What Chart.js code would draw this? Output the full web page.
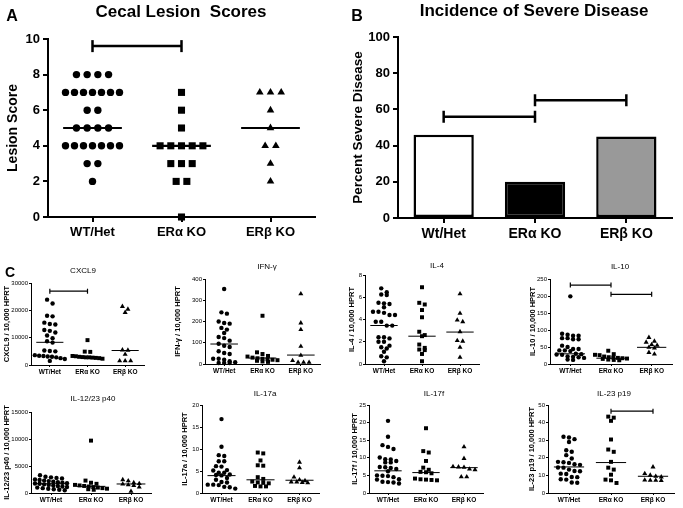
<!DOCTYPE html>
<html>
<head>
<meta charset="utf-8">
<script src="https://cdn.jsdelivr.net/npm/chart.js@4.4.1/dist/chart.umd.min.js"></script>
<style>
body{margin:0;width:683px;height:508px;background:#fff;position:relative;overflow:hidden;font-family:"Liberation Sans",Arial,sans-serif;}
canvas{position:absolute;}
.t{position:absolute;transform:translate(-50%,-50%);white-space:pre;color:#000;will-change:transform;filter:grayscale(100%);}
</style>
</head>
<body>
<div class="t" style="left:12px;top:16px;font:bold 16px 'Liberation Sans'">A</div>
<div class="t" style="left:357px;top:16px;font:bold 16px 'Liberation Sans'">B</div>
<div class="t" style="left:10px;top:272px;font:bold 14px 'Liberation Sans'">C</div>
<div class="t" style="left:181px;top:12px;font:bold 17px 'Liberation Sans'">Cecal Lesion  Scores</div>
<div class="t" style="left:534px;top:11px;font:bold 17px 'Liberation Sans'">Incidence of Severe Disease</div>
<div class="t" style="left:83px;top:270px;font:8px 'Liberation Sans'">CXCL9</div>
<div class="t" style="left:267px;top:266px;font:8px 'Liberation Sans'">IFN-γ</div>
<div class="t" style="left:437px;top:265px;font:8px 'Liberation Sans'">IL-4</div>
<div class="t" style="left:620px;top:266px;font:8px 'Liberation Sans'">IL-10</div>
<div class="t" style="left:93px;top:398px;font:8px 'Liberation Sans'">IL-12/23 p40</div>
<div class="t" style="left:265px;top:393px;font:8px 'Liberation Sans'">IL-17a</div>
<div class="t" style="left:434px;top:393px;font:8px 'Liberation Sans'">IL-17f</div>
<div class="t" style="left:614px;top:393px;font:8px 'Liberation Sans'">IL-23 p19</div>

<canvas id="cA"></canvas>
<canvas id="cB"></canvas>
<canvas id="c1"></canvas>
<canvas id="c2"></canvas>
<canvas id="c3"></canvas>
<canvas id="c4"></canvas>
<canvas id="c5"></canvas>
<canvas id="c6"></canvas>
<canvas id="c7"></canvas>
<canvas id="c8"></canvas>

<script>
// data
const groups = ['WT/Het', 'ERα KO', 'ERβ KO'];
const groupsB = ['Wt/Het', 'ERα KO', 'ERβ KO'];

// A - cecal lesion scores
const lesionWT = [8,8,8,8,7,7,7,7,7,7,7,6,6,5,5,5,5,4,4,4,4,4,4,4,3,3,2];
const lesionERa = [7,6,5,4,4,4,4,4,3,3,3,2,2,0];
const lesionERb = [7,7,7,6,5,4,4,3,2];
const lesionMid = [5,4,5];
const lesionSig = [[0,1,9.6]];

// B - percent severe disease
const severePct = [46,20,45];
const severeSig = [[0,1,56],[1,2,65]];

// C - cytokines / 10,000 HPRT
const cxcl9WT = [23900,22500,18000,17800,15500,15000,14800,12800,12500,11900,10800,9800,8700,8200,5300,5100,5000,3600,3400,3300,3100,3000,2800,2500,2200,1500];
const cxcl9ERa = [9100,4900,4800,3300,3200,3000,2900,2800,2800,2700,2600,2500,2300];
const cxcl9ERb = [21400,20400,19200,5500,5400,3900,1500,1500,1500];
const cxcl9Mid = [8300,2800,5300];
const cxcl9Sig = [[0,1,27000]];

const ifngWT = [353,243,237,200,193,190,170,162,146,127,122,110,95,86,80,60,52,47,25,25,20,13,8,5,5,5];
const ifngERa = [227,55,47,38,35,30,27,25,22,20,18,15,12,10];
const ifngERb = [330,193,162,83,41,16,8,8,8];
const ifngMid = [94,28,42];

const il4WT = [6.8,6.45,6.25,6.2,5.5,5.45,5.4,5.1,4.7,4.7,4.6,4.4,4.4,3.8,3.8,3.45,3.45,2.4,2.4,2.3,2.0,2.0,1.65,1.5,1.4,1.1,0.7,0.6,0.25];
const il4ERa = [6.9,5.5,5.35,4.85,4.2,2.9,2.6,2.5,1.75,1.45,1.3,1.25,0.9,0.25];
const il4ERb = [6.3,4.55,3.95,3.8,2.9,2.1,2.05,1.5,0.6];
const il4Mid = [3.46,2.5,2.87];

const il10WT = [199,89,86,83,83,76,76,73,73,54,50,44,44,40,40,38,30,29,28,27,22,21,20,18,13,12];
const il10ERa = [39,29,27,26,22,20,19,18,17,16,15,13,12,11];
const il10ERb = [78,67,64,57,55,49,47,34,29];
const il10Mid = [30,17,49];
const il10Sig = [[0,1,232],[1,2,205]];

const p40WT = [3300,3000,2900,2800,2700,2500,2400,2300,2200,2100,2000,1900,1800,1750,1700,1600,1500,1400,1300,1200,1100,1000,900,800,700,600,500];
const p40ERa = [9700,2300,1900,1700,1500,1400,1300,1200,1100,1000,900,800,700,600];
const p40ERb = [2450,2250,1900,1750,1650,1500,1400,1100,300];
const p40Mid = [1730,1230,1670];

const il17aWT = [16.8,10.5,8.6,8.4,7.2,7.2,6.1,6.0,5.2,5.1,4.6,4.6,4.2,4.1,4.0,3.4,3.0,2.5,2.4,1.9,1.9,1.8,1.4,1.3,1.0];
const il17aERa = [9.2,9.0,7.4,6.3,6.2,3.6,3.2,2.6,2.4,2.3,2.2,1.6,1.5,1.5];
const il17aERb = [7.0,5.7,3.6,3.0,2.8,2.5,2.5,2.4,2.3];
const il17aMid = [3.95,3.0,2.9];

const il17fWT = [20.5,16.0,13.6,13.1,12.5,10.1,9.6,9.5,9.1,8.7,8.7,7.4,7.3,7.1,6.8,6.2,5.0,4.9,4.8,4.5,3.9,3.8,3.2,3.1,3.0,2.7];
const il17fERa = [18.4,11.9,11.5,9.1,7.2,6.6,6.0,5.9,5.6,4.1,3.9,3.8,3.7,3.6];
const il17fERb = [13.1,9.8,7.5,7.4,7.3,6.8,6.6,4.6,4.6];
const il17fMid = [6.3,5.8,7.2];

const p19WT = [32,31.5,30.6,29,24.3,23.4,21.5,19.6,17.7,17.5,17.1,16.3,16.0,14.5,14.4,13.3,12.5,12.4,11.0,10.8,9.1,9.0,7.8,7.6,6.0,5.8];
const p19ERa = [43.4,42.8,41.0,30.4,24.7,23.4,17.7,14.4,13.3,10.4,7.6,7.2,5.7];
const p19ERb = [14.8,11.0,10.1,9.5,9.1,7.3,7.2,7.2,7.1];
const p19Mid = [14.8,17.3,9.5];
const p19Sig = [[1,2,46.5]];

Chart.defaults.font.family = "'Liberation Sans', Arial, sans-serif";
Chart.defaults.color = '#000';

// lay points of one column out in rows, like a column scatter
function spread(values, col, pxX, pxY, gap, maxHalf, tol){
  let sorted = values.slice().sort((a,b) => b-a);
  let pts = [];
  let row = [];
  function flush(){
    let n = row.length;
    let step = n > 1 ? Math.min(gap, 2*maxHalf/(n-1)) : 0;
    row.forEach((v,k) => pts.push({x: col + (k-(n-1)/2)*step/pxX, y: v}));
    row = [];
  }
  sorted.forEach(v => {
    if(row.length && (row[0]-v)*pxY > tol) flush();
    row.push(v);
  });
  flush();
  return pts;
}

function setCanvas(id, box){
  let cv = document.getElementById(id);
  cv.width = box.w; cv.height = box.h;
  cv.style.left = box.l+'px'; cv.style.top = box.t+'px';
  return cv;
}

function dotPanel(id, box, plot, o){
  let cv = setCanvas(id, box);
  let pxX = (plot.r-plot.l)/3, pxY = (plot.b-plot.t)/o.yMax;
  let styles = ['circle','rect','triangle'];
  let sets = [];
  o.cols.forEach((vals,i) => {
    sets.push({data: spread(vals, i, pxX, pxY, o.gap, o.maxHalf, o.tol),
      pointStyle: styles[i], pointRadius: o.rad[i], backgroundColor:'#000', borderWidth:0, clip:false});
  });
  o.mid.forEach((v,i) => {
    sets.push({data:[{x:i-o.half,y:v},{x:i+o.half,y:v}], showLine:true, borderColor:'#000',
      borderWidth:o.midW, pointRadius:0, clip:false});
  });
  (o.sig || []).forEach(s => {
    sets.push({data:[{x:s[0],y:s[2]},{x:s[1],y:s[2]}], showLine:true, borderColor:'#000', borderWidth:o.sigW,
      pointStyle:'line', pointRotation:90, pointRadius:o.cap, pointBorderColor:'#000', pointBorderWidth:o.sigW, clip:false});
  });
  new Chart(cv, {
    type:'scatter',
    data:{datasets:sets},
    options:{
      responsive:false, animation:false, events:[],
      layout:{padding:{left:0, bottom:0, top:plot.t-box.t, right:box.l+box.w-plot.r}},
      plugins:{legend:{display:false}, tooltip:{enabled:false}},
      scales:{
        x:{type:'linear', min:-0.5, max:2.5,
          afterBuildTicks: s => { s.ticks = [0,1,2].map(v => ({value:v})); },
          afterFit: s => { s.height = box.t+box.h-plot.b; s.paddingLeft = 0; s.paddingRight = 0; },
          ticks:{callback: v => groups[v], font:o.xFont, padding:o.xPad, maxRotation:0, autoSkip:false, color:'#000'},
          grid:{drawOnChartArea:false, color:'#000', tickLength:o.tick, lineWidth:o.axisW},
          border:{color:'#000', width:o.axisW}},
        y:{min:0, max:o.yMax,
          afterFit: s => { s.width = plot.l-box.l; s.paddingTop = 0; s.paddingBottom = 0; },
          ticks:{stepSize:o.yStep, callback: v => v, font:o.yFont, padding:o.yPad, color:'#000'},
          grid:{drawOnChartArea:false, color:'#000', tickLength:o.tick, lineWidth:o.axisW},
          border:{color:'#000', width:o.axisW},
          title:{display:true, text:o.yTitle, font:o.tFont, color:'#000', padding:{top:o.tPad, bottom:0}}}
      }
    }
  });
}

// panel A
dotPanel('cA', {l:0,t:0,w:345,h:260}, {l:48,t:39,r:315,b:217}, {
  cols:[lesionWT, lesionERa, lesionERb], mid:lesionMid, sig:lesionSig,
  yMax:10, yStep:2, yTitle:'Lesion Score',
  rad:[3.7,5,4.4], gap:10.7, maxHalf:27, tol:3, half:0.33, midW:2.2, sigW:2.5, cap:6,
  axisW:2, tick:5, xFont:{size:13, weight:'bold'}, yFont:{size:13, weight:'bold'},
  xPad:3, yPad:3, tFont:{size:14, weight:'bold'}, tPad:5
});

// panel B
let cvB = setCanvas('cB', {l:345,t:0,w:338,h:260});
let setsB = [{data:severePct, backgroundColor:['#fff','#000','#999'], borderColor:'#000', borderWidth:2.5,
  borderSkipped:false, barPercentage:0.66, categoryPercentage:1, order:2}];
severeSig.forEach(s => {
  setsB.push({type:'line', data:[{x:groupsB[s[0]],y:s[2]},{x:groupsB[s[1]],y:s[2]}], borderColor:'#000', borderWidth:2.5,
    pointStyle:'line', pointRotation:90, pointRadius:6, pointBorderColor:'#000', pointBorderWidth:2.5, order:1});
});
new Chart(cvB, {
  type:'bar',
  data:{labels:groupsB, datasets:setsB},
  options:{
    responsive:false, animation:false, events:[],
    layout:{padding:{left:0, bottom:0, top:37, right:11}},
    plugins:{legend:{display:false}, tooltip:{enabled:false}},
    scales:{
      x:{afterFit: s => { s.height = 42; s.paddingLeft = 0; s.paddingRight = 0; },
        ticks:{font:{size:14, weight:'bold'}, padding:3, color:'#000'},
        grid:{offset:false, drawOnChartArea:false, color:'#000', tickLength:5, lineWidth:2},
        border:{color:'#000', width:2}},
      y:{min:0, max:100,
        afterFit: s => { s.width = 53; s.paddingTop = 0; s.paddingBottom = 0; },
        ticks:{stepSize:20, font:{size:13, weight:'bold'}, padding:3, color:'#000'},
        grid:{drawOnChartArea:false, color:'#000', tickLength:5, lineWidth:2},
        border:{color:'#000', width:2},
        title:{display:true, text:'Percent Severe Disease', font:{size:13.5, weight:'bold'}, color:'#000', padding:{top:5, bottom:0}}}
    }
  }
});

// panel C
const small = {rad:[2.2,2.8,2.9], gap:5.5, tol:4, half:0.36, midW:1, sigW:1.2, cap:2.5,
  axisW:1, tick:2, xFont:{size:6.5, weight:'bold'}, yFont:{size:6}, xPad:1, yPad:1, tFont:{size:7.5, weight:'bold'}};

dotPanel('c1', {l:0,t:262,w:170,h:118}, {l:31,t:283,r:144,b:365}, Object.assign({}, small, {
  cols:[cxcl9WT, cxcl9ERa, cxcl9ERb], mid:cxcl9Mid, sig:cxcl9Sig, yMax:30000, yStep:10000,
  yTitle:'CXCL9 / 10,000 HPRT', maxHalf:15, tPad:2.5}));
dotPanel('c2', {l:170,t:262,w:170,h:118}, {l:205,t:279,r:320,b:364}, Object.assign({}, small, {
  cols:[ifngWT, ifngERa, ifngERb], mid:ifngMid, yMax:400, yStep:100,
  yTitle:'IFN-γ / 10,000 HPRT', maxHalf:15, tPad:3.5}));
dotPanel('c3', {l:340,t:262,w:170,h:118}, {l:365,t:275,r:479,b:364}, Object.assign({}, small, {
  cols:[il4WT, il4ERa, il4ERb], mid:il4Mid, yMax:8, yStep:2,
  yTitle:'IL-4 / 10,000 HPRT', maxHalf:15, tPad:7.5}));
dotPanel('c4', {l:510,t:262,w:173,h:118}, {l:550,t:279,r:672,b:364}, Object.assign({}, small, {
  cols:[il10WT, il10ERa, il10ERb], mid:il10Mid, sig:il10Sig, yMax:250, yStep:50,
  yTitle:'IL-10 / 10,000 HPRT', maxHalf:16, tPad:18.5}));
dotPanel('c5', {l:0,t:380,w:170,h:128}, {l:31,t:412,r:151,b:493}, Object.assign({}, small, {
  cols:[p40WT, p40ERa, p40ERb], mid:p40Mid, yMax:15000, yStep:5000,
  yTitle:'IL-12/23 p40 / 10,000 HPRT', maxHalf:16, tPad:2.5}));
dotPanel('c6', {l:170,t:380,w:170,h:128}, {l:202,t:405,r:319,b:493}, Object.assign({}, small, {
  cols:[il17aWT, il17aERa, il17aERb], mid:il17aMid, yMax:20, yStep:5,
  yTitle:'IL-17a / 10,000 HPRT', maxHalf:15, tPad:10.5}));
dotPanel('c7', {l:340,t:380,w:170,h:128}, {l:369,t:405,r:483,b:493}, Object.assign({}, small, {
  cols:[il17fWT, il17fERa, il17fERb], mid:il17fMid, yMax:25, yStep:5,
  yTitle:'IL-17f / 10,000 HPRT', maxHalf:15, tPad:10.5}));
dotPanel('c8', {l:510,t:380,w:173,h:128}, {l:548,t:405,r:674,b:493}, Object.assign({}, small, {
  cols:[p19WT, p19ERa, p19ERb], mid:p19Mid, sig:p19Sig, yMax:50, yStep:10,
  yTitle:'IL-23 p19 / 10,000 HPRT', maxHalf:16, tPad:17.5}));
</script>
</body>
</html>
